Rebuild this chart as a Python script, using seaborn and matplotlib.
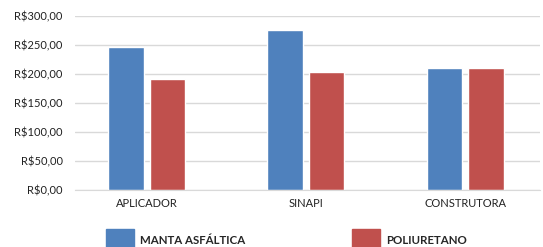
import matplotlib
matplotlib.use("Agg")
import matplotlib.pyplot as plt
from matplotlib.patches import Patch
from matplotlib.ticker import FuncFormatter
import seaborn as sns
import pandas as pd

# data
locais = ["APLICADOR", "SINAPI", "CONSTRUTORA"]
manta = [247, 275, 210]
poliuretano = [191, 204, 210]
series = ["MANTA ASFÁLTICA", "POLIURETANO"]
cores = ["#4f81bd", "#c0504d"]

df = pd.DataFrame({
    "local": locais * 2,
    "valor": manta + poliuretano,
    "material": [series[0]] * 3 + [series[1]] * 3,
})

sns.set_style("white")
plt.rcParams["font.family"] = ["Lato", "DejaVu Sans"]

fig = plt.figure(figsize=(5.43, 2.47), dpi=100)
ax = fig.add_axes([75 / 543, 1 - 190 / 247, 465 / 543, 174 / 247])

sns.barplot(data=df, x="local", y="valor", hue="material", palette=cores,
            width=0.52, gap=0.14, ax=ax, saturation=1)
ax.get_legend().remove()

ax.set_ylim(0, 300)
ax.set_xlim(-0.45, 2.47)
ax.set_yticks(range(0, 301, 50))
ax.yaxis.set_major_formatter(FuncFormatter(lambda v, p: f"R${v:.2f}".replace(".", ",")))
ax.grid(axis="y", color="#d9d9d9", linewidth=1)
ax.set_axisbelow(True)
for s in ["top", "right", "left"]:
    ax.spines[s].set_visible(False)
ax.spines["bottom"].set_color("#d9d9d9")
ax.tick_params(axis="both", length=0, labelsize=8, colors="#222222")
ax.tick_params(axis="y", pad=9)
ax.tick_params(axis="x", pad=6)
ax.set_xlabel("")
ax.set_ylabel("")

handles = [Patch(color=c) for c in cores]
fig.legend(handles, series, loc="upper left", bbox_to_anchor=(106 / 543, 1 - 229 / 247),
           ncol=2, frameon=False, borderaxespad=0, borderpad=0,
           handlelength=2.4, handleheight=2.6, handletextpad=0.55,
           columnspacing=9.3, prop={"size": 8.3, "weight": "bold"})

fig.savefig("out.png", dpi=100)
